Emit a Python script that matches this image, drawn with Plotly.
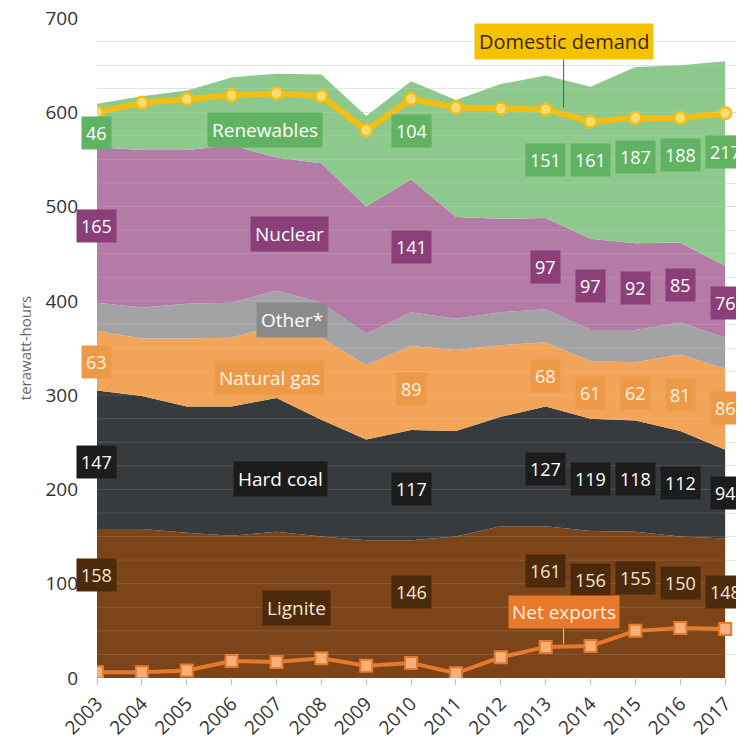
import plotly.graph_objects as go

years = list(range(2003, 2018))

lignite = [158, 158, 154, 151, 155, 150, 146, 146, 150, 161, 161, 156, 155, 150, 148]
hard_coal = [147, 141, 134, 137, 142, 124, 107, 117, 112, 116, 127, 119, 118, 112, 94]
natural_gas = [63, 61, 72, 73, 77, 87, 79, 89, 86, 76, 68, 61, 62, 81, 86]
other = [30, 33, 37, 37, 37, 37, 33, 36, 33, 35, 35, 33, 34, 34, 33]
nuclear = [165, 167, 163, 167, 141, 148, 135, 141, 108, 99, 97, 97, 92, 85, 76]
renewables = [46, 57, 63, 72, 89, 94, 96, 104, 124, 143, 151, 161, 187, 188, 217]

domestic_demand = [600, 610, 614, 618, 620, 617, 581, 614, 605, 604, 603, 590, 594, 594, 599]
net_exports = [6, 6, 8, 18, 17, 21, 13, 16, 5, 22, 33, 34, 50, 53, 52]

FONT = "'Open Sans', sans-serif"

series = [
    # name, values, fill, label bg, label text colour
    ("Lignite", lignite, "#7b4519", "#4e2a0c", "#f7e6d2"),
    ("Hard coal", hard_coal, "#383b3e", "#1c1c1c", "#ffffff"),
    ("Natural gas", natural_gas, "#f2a458", "#ec9a48", "#fff3e0"),
    ("Other*", other, "#a3a3a5", "#8a8a8c", "#ffffff"),
    ("Nuclear", nuclear, "#b47ba6", "#8a3f79", "#ffffff"),
    ("Renewables", renewables, "#8dc88d", "#62b263", "#ffffff"),
]

fig = go.Figure()

for name, vals, fill, _, _ in series:
    fig.add_trace(go.Scatter(
        x=years, y=vals, name=name, stackgroup="gen",
        mode="none", fillcolor=fill, hoverinfo="x+y+name",
    ))

fig.add_trace(go.Scatter(
    x=years, y=domestic_demand, name="Domestic demand", mode="lines+markers",
    line=dict(color="#f3be12", width=6),
    marker=dict(symbol="circle", size=12, color="#f8dc74",
                line=dict(color="#f3be12", width=2.5)),
))
fig.add_trace(go.Scatter(
    x=years, y=net_exports, name="Net exports", mode="lines+markers",
    line=dict(color="#e8782a", width=4),
    marker=dict(symbol="square", size=12, color="#f5b07a",
                line=dict(color="#e8782a", width=2)),
))

# where each value label sits (None = no label that year)
label_pos = {
    "Lignite": [109, None, None, None, None, None, None, 91, None, None, 113, 104, 106, 101, 91],
    "Hard coal": [229, None, None, None, None, None, None, 200, None, None, 222, 211, 211, 207, 196],
    "Natural gas": [335, None, None, None, None, None, None, 307, None, None, 320, 302, 302, 300, 286],
    "Nuclear": [479, None, None, None, None, None, None, 457, None, None, 436, 416, 414, 417, 398],
    "Renewables": [578, None, None, None, None, None, None, 580, None, None, 549, 549, 553, 555, 558],
}

annotations = []
for name, vals, fill, bg, fc in series:
    if name not in label_pos:
        continue
    for yr, v, ly in zip(years, vals, label_pos[name]):
        if ly is None:
            continue
        annotations.append(dict(
            x=yr, y=ly, text=str(v), showarrow=False, bgcolor=bg,
            xshift=-1 if yr == 2003 else 0,
            font=dict(family=FONT, size=18, color=fc), borderpad=4,
        ))

# series name labels
name_pos = {
    "Renewables": (2006.75, 581),
    "Nuclear": (2007.3, 471),
    "Other*": (2007.35, 380),
    "Natural gas": (2006.85, 318),
    "Hard coal": (2007.1, 211),
    "Lignite": (2007.45, 74),
}
for name, vals, fill, bg, fc in series:
    x0, y0 = name_pos[name]
    annotations.append(dict(
        x=x0, y=y0, text=name, showarrow=False, bgcolor=bg,
        font=dict(family=FONT, size=19, color=fc), borderpad=4,
    ))

annotations.append(dict(
    x=2013.4, y=605, text="Domestic demand", showarrow=True, arrowhead=0,
    arrowwidth=1, arrowcolor="#555", ax=0, ay=-66, bgcolor="#f5c200",
    font=dict(family=FONT, size=20, color="#3a2600"), borderpad=4,
))
annotations.append(dict(
    x=2013.4, y=36, text="Net exports", showarrow=True, arrowhead=0,
    arrowwidth=1, arrowcolor="#f2c9a8", ax=0, ay=-32, bgcolor="#e8782a",
    font=dict(family=FONT, size=19, color="#fff0e0"), borderpad=3,
))

# faint grid over the coloured areas
shapes = []
for g in range(25, 700, 25):
    shapes.append(dict(type="line", xref="paper", x0=0, x1=1, yref="y", y0=g, y1=g,
                       line=dict(color="rgba(255,255,255,0.13)", width=1), layer="above"))

# page body has an 8px margin, so the figure is sized/margined to compensate
fig.update_layout(
    width=736, height=743,
    margin=dict(l=89, r=0, t=10, b=73),
    paper_bgcolor="white", plot_bgcolor="white",
    showlegend=False,
    font=dict(family=FONT, color="#333"),
    annotations=annotations,
    shapes=shapes,
)
fig.update_xaxes(
    range=[2003, 2017.42], tickvals=years, ticktext=[str(y) for y in years],
    tickangle=-45, tickfont=dict(size=19, color="#333"),
    ticks="outside", ticklen=6, tickcolor="#bbb",
    showgrid=False, zeroline=False, showline=False, automargin=False,
)
fig.update_yaxes(
    range=[0, 700], tickvals=list(range(0, 701, 100)),
    tickfont=dict(size=19, color="#333"), ticklabeloverflow="allow",
    showgrid=True, gridcolor="#d4d4d4", gridwidth=1,
    minor=dict(dtick=25, showgrid=True, gridcolor="#e2e2e2"),
    zeroline=False, ticklabelstandoff=18, automargin=False,
    title=dict(text="terawatt-hours", font=dict(size=15, color="#666"), standoff=10),
)

fig.write_html("out.html")
